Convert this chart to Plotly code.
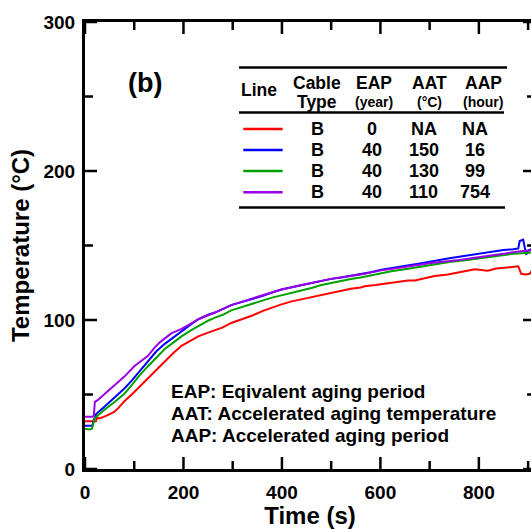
import plotly.graph_objects as go

# ---------------- data ----------------
red_t = [0, 22, 25, 30, 45, 60, 68, 80, 95, 110, 129, 145, 162, 180, 196, 215, 230, 250, 264, 280, 297, 318,
         340, 360, 380, 399, 420, 440, 460, 480, 500, 520, 540, 560, 568, 590, 610, 622, 640, 656, 670, 690,
         710, 737, 760, 780, 792, 805, 818, 835, 850, 865, 880, 886, 895, 903, 911]
red_T = [32, 32, 34.5, 34, 36, 38.5, 41, 45.5, 50, 55, 61, 66.5, 72.7, 78, 82.7, 86.5, 89, 91.5, 93, 95, 98, 100.5,
         103, 106, 108.5, 110.5, 112.5, 114, 115.5, 117, 118, 119.5, 121, 121.8, 122.7, 123.5, 124.5, 125, 126, 126.5, 126.5, 128,
         129.5, 130.5, 132, 133, 134, 133.5, 133, 134.5, 135, 135.5, 136, 131, 130.5, 131, 134.5]

blue_t = [0, 15, 18, 23, 40, 60, 80, 94, 110, 128, 145, 162, 180, 196, 215, 230, 250, 264, 280, 297, 318, 340,
          360, 380, 399, 420, 440, 460, 480, 500, 520, 540, 560, 580, 602, 622, 640, 660, 680, 703, 720, 740,
          760, 780, 805, 830, 850, 870, 880, 883, 890, 893, 896, 900, 906, 914]
blue_T = [29, 29, 33, 37, 42, 48, 54, 59, 65.5, 72.7, 79, 84, 88.5, 92.7, 97, 100.5, 103.5, 105, 107.5, 110, 112, 114,
          116, 118.5, 120.5, 122, 123.5, 125, 126.5, 127.6, 128.5, 129.5, 130.5, 132, 133.8, 135, 136, 137, 138, 139.3, 140.5, 141.5,
          142.5, 143.5, 145, 146, 147, 147.5, 148, 153, 154, 149, 144, 146.5, 147.5, 148]

green_t = [0, 10, 14, 17, 20, 23, 40, 60, 80, 94, 110, 128, 145, 162, 180, 196, 215, 230, 250, 264, 280, 297,
           318, 340, 360, 380, 399, 420, 440, 460, 480, 500, 520, 540, 560, 580, 602, 622, 660, 703, 740, 780,
           805, 840, 870, 894, 914]
green_T = [27, 26.5, 27, 30, 34, 35, 40, 45, 50.5, 56, 62.5, 69, 75, 80.5, 85, 89, 93, 96, 99.5, 101.6, 103.5, 106.5,
           108.5, 111, 113, 115, 116.5, 118.5, 120, 121.5, 123.5, 125, 126.5, 127.5, 128.5, 130, 131.5, 132.7, 134.5, 137, 139, 140.5,
           141.6, 143, 144.5, 145, 145.5]

purple_t = [0, 15, 18, 20, 25, 40, 60, 80, 100, 128, 140, 152, 175, 196, 215, 230, 264, 297, 340, 399, 440,
            500, 560, 602, 660, 703, 760, 805, 850, 880, 914]
purple_T = [35, 35, 36, 45, 46, 50.5, 56, 62, 69, 76, 81, 85, 91, 94, 97.5, 100.5, 105, 110, 114.5, 120.5, 123.5,
            127.6, 130.5, 133.3, 136, 138.2, 140.3, 142.2, 144.5, 146, 147]

series_names = ["B, EAP 0", "B, EAP 40, 150 °C", "B, EAP 40, 130 °C", "B, EAP 40, 110 °C"]
series_colors = ["#ff0000", "#0000ff", "#00a000", "#9a00e6"]

# table content
tbl_header_top = ["Line", "Cable", "EAP", "AAT", "AAP"]
tbl_header_sub = ["", "Type", "(year)", "(°C)", "(hour)"]
tbl_cable = ["B", "B", "B", "B"]
tbl_eap = ["0", "40", "40", "40"]
tbl_aat = ["NA", "150", "130", "110"]
tbl_aap = ["NA", "16", "99", "754"]

notes = ["EAP: Eqivalent aging period",
         "AAT: Accelerated aging temperature",
         "AAP: Accelerated aging period"]

x_range = [0, 914]
y_range = [0, 300]
x_major = [0, 200, 400, 600, 800]
x_minor = [100, 300, 500, 700, 900]
y_major = [0, 100, 200, 300]
y_minor = [50, 150, 250]

# ---------------- layout geometry (pixels) ----------------
FIG_W, FIG_H = 540, 529
L, R, T, B = 85, 535, 22, 469
W, H = R - L, B - T
MAJ, MIN = 12, 8


def px(xp):
    return (xp - L) / W


def py(yp):
    return (B - yp) / H


FONT = "Liberation Sans, Arial, Helvetica, sans-serif"

fig = go.Figure()
for t, v, n, c in zip([red_t, blue_t, green_t, purple_t], [red_T, blue_T, green_T, purple_T],
                      series_names, series_colors):
    fig.add_trace(go.Scatter(x=t, y=v, mode="lines", name=n,
                             line=dict(color=c, width=2), showlegend=False))

axis_common = dict(showline=True, linecolor="black", linewidth=3, ticks="", mirror=True,
                   showgrid=False, zeroline=False,
                   tickfont=dict(family=FONT, size=19, color="black", weight="bold"))

fig.update_layout(
    width=FIG_W, height=FIG_H,
    margin=dict(l=L, r=FIG_W - R, t=T, b=FIG_H - B, autoexpand=False),
    plot_bgcolor="white", paper_bgcolor="white",
    xaxis=dict(range=x_range, tickmode="array", tickvals=x_major,
               title=dict(text="Time (s)", font=dict(family=FONT, size=24, color="black", weight="bold"),
                          standoff=8),
               ticklabelstandoff=4,
               **axis_common),
    yaxis=dict(range=y_range, tickmode="array", tickvals=y_major,
               title=dict(text="Temperature (°C)", font=dict(family=FONT, size=24, color="black", weight="bold"),
                          standoff=8),
               ticklabelstandoff=3,
               **axis_common),
)

annos = []
shapes = []

# tick marks (inside, on all four sides) positioned through the axis scales
for vals, ln in ((x_major, MAJ), (x_minor, MIN)):
    for v in vals:
        if x_range[0] <= v <= x_range[1]:
            for y0, y1 in ((0, ln / H), (1, 1 - ln / H)):
                shapes.append(dict(type="line", xref="x", yref="paper", x0=v, x1=v, y0=y0, y1=y1,
                                   line=dict(color="black", width=2.5)))
for vals, ln in ((y_major, MAJ), (y_minor, MIN)):
    for v in vals:
        for x0, x1 in ((0, ln / W), (1, 1 - ln / W)):
            shapes.append(dict(type="line", xref="paper", yref="y", x0=x0, x1=x1, y0=v, y1=v,
                               line=dict(color="black", width=2.5)))


def txt(x, y, s, size, xanchor="center"):
    annos.append(dict(x=px(x), y=py(y), xref="paper", yref="paper", text=s, showarrow=False,
                      xanchor=xanchor, yanchor="middle",
                      font=dict(family=FONT, size=size, color="black", weight="bold")))


def hline(x0, x1, y, color="black", width=2.5):
    shapes.append(dict(type="line", xref="paper", yref="paper", x0=px(x0), x1=px(x1), y0=py(y), y1=py(y),
                       line=dict(color=color, width=width)))


# panel label
txt(145, 83, "(b)", 27)

# table rules
hline(239, 507, 67.5)
hline(239, 504, 112.5)
hline(239, 505, 207.5)

# header
txt(259, 90, tbl_header_top[0], 17.5)
col_x_head = [316.7, 374, 429, 483.3]
for i, cx in enumerate(col_x_head):
    txt(cx, 82.5, tbl_header_top[i + 1], 17.5)
    txt(cx, 101.5, tbl_header_sub[i + 1], 14 if i > 0 else 17.5)

# rows
row_y = [129, 150, 171, 192.3]
col_x = [317.3, 372, 423.5, 475]
for r, yy in enumerate(row_y):
    hline(243.3, 282.7, yy, series_colors[r], 2.5)
    for cx, col in zip(col_x, [tbl_cable, tbl_eap, tbl_aat, tbl_aap]):
        txt(cx, yy, col[r], 18)

# notes
for yy, s in zip([391.5, 413.3, 435], notes):
    txt(169, yy, s, 19, xanchor="left")

fig.update_layout(annotations=annos, shapes=shapes)

fig.write_html("out.html", config={"displayModeBar": False},
               post_script="document.documentElement.style.overflow='hidden';"
                           "document.body.style.overflow='hidden';document.body.style.margin='0';")
